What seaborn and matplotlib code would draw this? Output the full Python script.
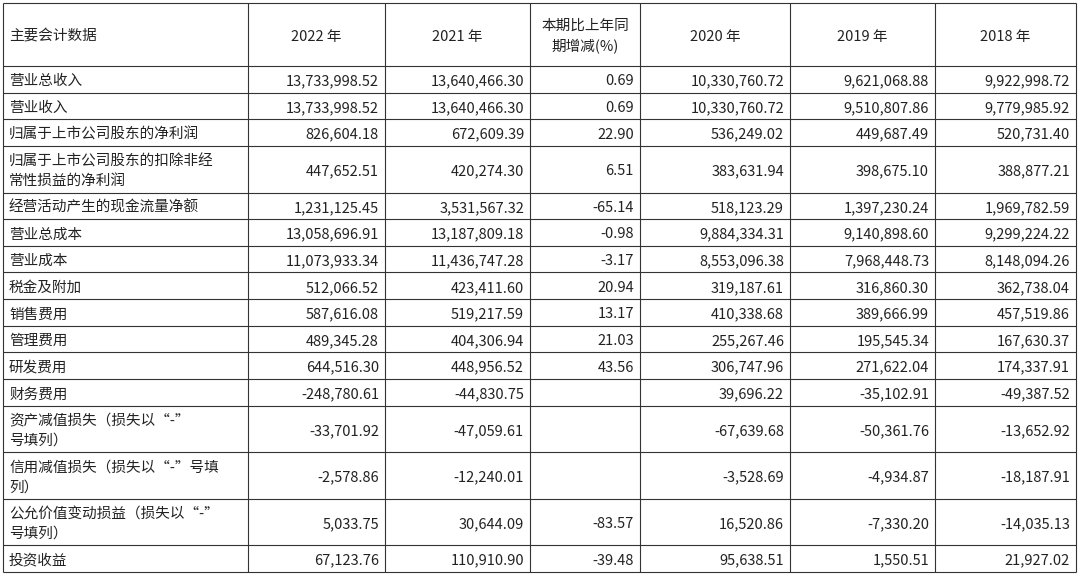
import matplotlib
matplotlib.use("Agg")
import matplotlib.pyplot as plt
import seaborn as sns

sns.set_style("white")
plt.rcParams['font.family'] = ['Noto Sans CJK SC', 'DejaVu Sans']

headers = ["主要会计数据", "2022 年", "2021 年", "本期比上年同\n期增减(%)", "2020 年", "2019 年", "2018 年"]
items = ["营业总收入", "营业收入", "归属于上市公司股东的净利润", "归属于上市公司股东的扣除非经\n常性损益的净利润",
         "经营活动产生的现金流量净额", "营业总成本", "营业成本", "税金及附加", "销售费用", "管理费用", "研发费用",
         "财务费用", "资产减值损失（损失以“-”\n号填列）", "信用减值损失（损失以“-”号填\n列）",
         "公允价值变动损益（损失以“-”\n号填列）", "投资收益"]
y2022 = ["13,733,998.52", "13,733,998.52", "826,604.18", "447,652.51", "1,231,125.45", "13,058,696.91",
         "11,073,933.34", "512,066.52", "587,616.08", "489,345.28", "644,516.30", "-248,780.61",
         "-33,701.92", "-2,578.86", "5,033.75", "67,123.76"]
y2021 = ["13,640,466.30", "13,640,466.30", "672,609.39", "420,274.30", "3,531,567.32", "13,187,809.18",
         "11,436,747.28", "423,411.60", "519,217.59", "404,306.94", "448,956.52", "-44,830.75",
         "-47,059.61", "-12,240.01", "30,644.09", "110,910.90"]
chg = ["0.69", "0.69", "22.90", "6.51", "-65.14", "-0.98", "-3.17", "20.94", "13.17", "21.03", "43.56",
       "", "", "", "-83.57", "-39.48"]
y2020 = ["10,330,760.72", "10,330,760.72", "536,249.02", "383,631.94", "518,123.29", "9,884,334.31",
         "8,553,096.38", "319,187.61", "410,338.68", "255,267.46", "306,747.96", "39,696.22",
         "-67,639.68", "-3,528.69", "16,520.86", "95,638.51"]
y2019 = ["9,621,068.88", "9,510,807.86", "449,687.49", "398,675.10", "1,397,230.24", "9,140,898.60",
         "7,968,448.73", "316,860.30", "389,666.99", "195,545.34", "271,622.04", "-35,102.91",
         "-50,361.76", "-4,934.87", "-7,330.20", "1,550.51"]
y2018 = ["9,922,998.72", "9,779,985.92", "520,731.40", "388,877.21", "1,969,782.59", "9,299,224.22",
         "8,148,094.26", "362,738.04", "457,519.86", "167,630.37", "174,337.91", "-49,387.52",
         "-13,652.92", "-18,187.91", "-14,035.13", "21,927.02"]

cols = [items, y2022, y2021, chg, y2020, y2019, y2018]
xb = [3, 248, 385, 530, 640, 790, 935, 1076]
row_h = [65] + [27.5 if "\n" not in s else 48 for s in items]
yb = [3]
for h in row_h:
    yb.append(yb[-1] + h)
scale = (572 - 3) / (yb[-1] - 3)
yb = [3 + (v - 3) * scale for v in yb]

fig = plt.figure(figsize=(10.8, 5.75), dpi=100)
ax = fig.add_axes([0, 0, 1, 1])
ax.set_xlim(0, 1080)
ax.set_ylim(575, 0)
ax.axis("off")
ax.hlines(yb, xb[0], xb[-1], color="#333333", lw=0.8)
ax.vlines(xb, yb[0], yb[-1], color="#333333", lw=0.8)

fs = 10.5
dy = 2
for c, h in enumerate(headers):
    yc = (yb[0] + yb[1]) / 2 + dy
    if c == 0:
        ax.text(xb[0] + 6, yc, h, ha="left", va="center", fontsize=fs, color="#222")
    else:
        ax.text((xb[c] + xb[c + 1]) / 2, yc, h, ha="center", va="center", fontsize=fs, color="#222",
                linespacing=1.5)
for r in range(len(items)):
    yc = (yb[r + 1] + yb[r + 2]) / 2 + dy
    for c, col in enumerate(cols):
        if c == 0:
            ax.text(xb[0] + 6, yc, col[r], ha="left", va="center", fontsize=fs, color="#222",
                    linespacing=1.5)
        else:
            ax.text(xb[c + 1] - 6, yc, col[r], ha="right", va="center", fontsize=fs, color="#222")

fig.savefig("out.png", dpi=100, facecolor="white")
